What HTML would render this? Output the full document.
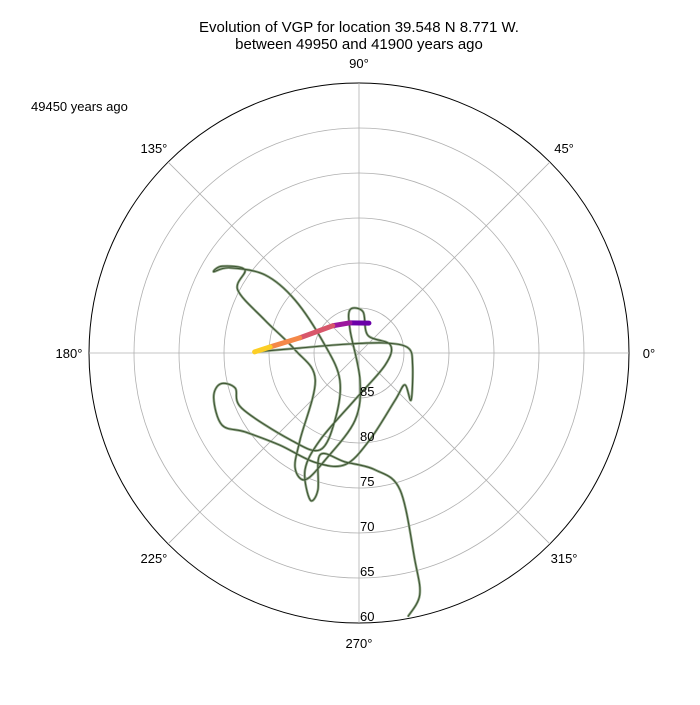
<!DOCTYPE html>
<html><head><meta charset="utf-8"><style>
body{margin:0;background:#fff;}
svg text{font-family:"Liberation Sans",sans-serif;font-size:13px;fill:#000;}
</style></head><body>
<svg id="chart" width="700" height="700" viewBox="0 0 700 700" xmlns="http://www.w3.org/2000/svg">
<rect width="700" height="700" fill="#fff"/>
<text x="359" y="32" text-anchor="middle" style="font-size:15px">Evolution of VGP for location 39.548 N 8.771 W.</text>
<text x="359" y="49" text-anchor="middle" style="font-size:15px">between 49950 and 41900 years ago</text>
<text x="31" y="111">49450 years ago</text>
<g id="grid"></g>
<g id="series"></g>
<g id="labels"></g>
</svg>
<script>
const cx=359, cy=353, R=270, latMin=60;
const ringLats=[85,80,75,70,65,60];
const angleTicks=[0,45,90,135,180,225,270,315];
const colorLon=[71.6,106.7,133.9,165.7,176.1,179.4];
const colorLat=[86.5,86.5,85.8,83.2,80.1,78.4];
const pathLon=[179.4,175.2,147.3,21.0,5.8,347.5,317.9,325.2,307.5,277.2,262.9,248,229.3,214.7,207.7,197.2,192.6,195.8,205.2,231.6,248.1,250.3,234.9,166.8,140.4,140.3,146.6,150.8,147.6,143.9,152.5,160.7,177.3,211.5,235.9,240.9,247,252.4,266.6,272.1,111.4,101.8,84.4,63.4,14.5,335.2,265.1,245.9,245.2,251.6,253.3,249.1,262.7,277.8,286.7,285.1,284.1,280.5];
const pathLat=[78.4,83.4,88.2,86.9,84.5,83.9,82.2,83.8,83.4,80.3,77.5,76.9,76.5,74.6,72.8,73.1,74.2,75.7,75.6,77.7,78.4,82.1,86.3,86.1,80.8,76.4,72.8,71.5,72.0,74.3,74.8,78.9,82.9,84.3,78.3,75.4,74.7,77.5,82.5,87,87.3,85.1,85.4,87.8,86.4,86.8,84.8,79.4,75.7,72.8,74.1,77.9,77.8,76.9,74.1,66.2,62.3,60.2];
const NS="http://www.w3.org/2000/svg";
function rScale(lat){return (90-lat)/(90-latMin)*R;}
function px(lon,lat){const a=lon*Math.PI/180,r=rScale(lat);return [cx+r*Math.cos(a),cy-r*Math.sin(a)];}
function mk(tag,attrs,parent){const e=document.createElementNS(NS,tag);for(const k in attrs)e.setAttribute(k,attrs[k]);parent.appendChild(e);return e;}
const grid=document.getElementById('grid'),series=document.getElementById('series'),labels=document.getElementById('labels');
ringLats.forEach(l=>{
  const c=mk('circle',{cx:cx,cy:cy,r:rScale(l),fill:'none',stroke:l===latMin?'#000':'#b0b0b0','stroke-width':l===latMin?1:0.8},grid);
  
  
  const [x,y]=px(270,l);
  const t=mk('text',{x:x+1,y:y-2},labels);t.textContent=l;
  
  
});
angleTicks.forEach(a=>{
  const [x,y]=px(a,latMin);
  const ln=mk('line',{x1:cx,y1:cy,x2:x,y2:y,stroke:'#b0b0b0','stroke-width':0.8},grid);
  
  
  const rad=a*Math.PI/180, rr=R+20;
  const tx=cx+rr*Math.cos(rad), ty=cy-rr*Math.sin(rad)+5;
  const t=mk('text',{x:tx,y:ty,'text-anchor':'middle'},labels);t.textContent=a+'°';
  
  
});
function smooth(pts){let d='M'+pts[0][0]+','+pts[0][1];
  for(let i=0;i<pts.length-1;i++){const p0=pts[i-1]||pts[i],p1=pts[i],p2=pts[i+1],p3=pts[i+2]||p2;
    const c1=[p1[0]+(p2[0]-p0[0])/6,p1[1]+(p2[1]-p0[1])/6],c2=[p2[0]-(p3[0]-p1[0])/6,p2[1]-(p3[1]-p1[1])/6];
    d+=' C'+c1+' '+c2+' '+p2;}return d;}
const gp=pathLon.map((l,i)=>px(l,pathLat[i]));
const halo=mk('path',{d:smooth(gp),fill:'none',stroke:'#9aae92','stroke-width':2.6,'stroke-linejoin':'round'},series);


const main=mk('path',{d:smooth(gp),fill:'none',stroke:'#3e5533','stroke-width':1.1,'stroke-linejoin':'round'},series);


const cols=['#2c0594','#6a00a8','#9c179e','#d8576b','#f48849','#fcce25'];
const cp=colorLon.map((l,i)=>px(l,colorLat[i]));
for(let i=0;i<cp.length-1;i++){
  const s=mk('line',{x1:cp[i][0],y1:cp[i][1],x2:cp[i+1][0],y2:cp[i+1][1],stroke:cols[i+1],'stroke-width':5,'stroke-linecap':'round'},series);
  
  
}
</script>
</body></html>
